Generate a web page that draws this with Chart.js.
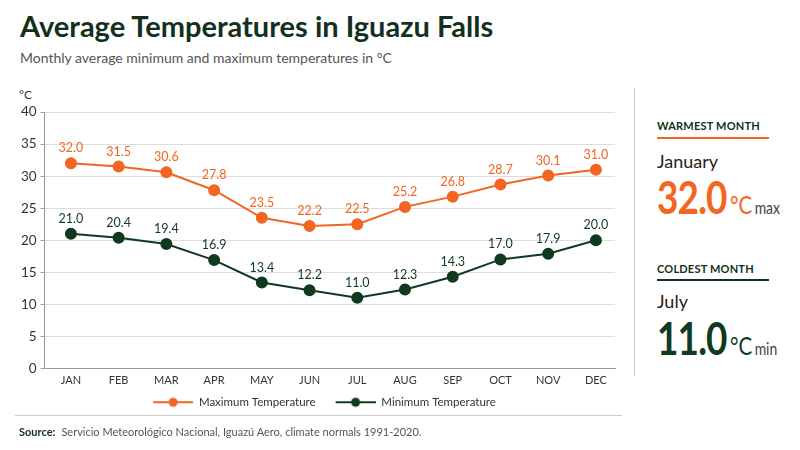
<!DOCTYPE html>
<html><head><meta charset="utf-8">
<script src="https://cdn.jsdelivr.net/npm/chart.js@4.4.1/dist/chart.umd.min.js"></script>
<style>
html,body{margin:0;padding:0;background:#fff;width:800px;height:450px;overflow:hidden;font-family:Lato,sans-serif;}
#title{position:absolute;left:20px;top:8px;font-size:29px;font-weight:700;color:#12301c;white-space:nowrap;}
#sub{position:absolute;left:20px;top:49px;font-size:14px;color:#555;white-space:nowrap;}
#unit{position:absolute;left:19px;top:87px;font-size:12px;color:#333;}
#wrap{position:absolute;left:0;top:100px;width:632px;height:318px;}
#vline{position:absolute;left:634px;top:88px;width:1px;height:288px;background:#ccc;}
#hline{position:absolute;left:15px;top:415px;width:607px;height:1px;background:#ccc;}
#src{position:absolute;left:19px;top:425px;font-size:11px;color:#555;white-space:nowrap;}
#src b{color:#12301c;margin-right:6px;}
.hd{position:absolute;left:657px;font-size:11px;font-weight:700;color:#12301c;letter-spacing:0.2px;}
.ul{position:absolute;left:657px;width:112px;height:1.5px;}
.mo{position:absolute;left:657px;font-size:18px;color:#222;}
.big{position:absolute;left:657px;white-space:nowrap;transform-origin:0 0;transform:scaleX(0.82);}
.big .n{font-weight:700;font-size:45px;letter-spacing:-1px;}
.big .u{font-size:25px;font-weight:400;margin-left:4px;}
.big .m{font-size:17px;font-weight:400;color:#444;margin-left:3px;}
</style></head>
<body>
<div id="title">Average Temperatures in Iguazu Falls</div>
<div id="sub">Monthly average minimum and maximum temperatures in °C</div>
<div id="unit">°C</div>
<div id="wrap"><canvas id="c"></canvas></div>
<div id="vline"></div>
<div class="hd" style="top:119px">WARMEST MONTH</div>
<div class="ul" style="top:137px;background:#f26522"></div>
<div class="mo" style="top:150px">January</div>
<div class="big" id="warm" style="top:170px;color:#f26522"></div>
<div class="hd" style="top:262px">COLDEST MONTH</div>
<div class="ul" style="top:279px;background:#12301c"></div>
<div class="mo" style="top:290px">July</div>
<div class="big" id="cold" style="top:311px;color:#0f3a1e"></div>
<div id="hline"></div>
<div id="src"><b>Source:</b>Servicio Meteorológico Nacional, Iguazú Aero, climate normals 1991-2020.</div>
<script>
const months = ["JAN","FEB","MAR","APR","MAY","JUN","JUL","AUG","SEP","OCT","NOV","DEC"];
const maxTemps = [32.0,31.5,30.6,27.8,23.5,22.2,22.5,25.2,26.8,28.7,30.1,31.0];
const minTemps = [21.0,20.4,19.4,16.9,13.4,12.2,11.0,12.3,14.3,17.0,17.9,20.0];
const yTicks = [0,5,10,15,20,25,30,35,40];

const ORANGE = "#f26522", GREEN = "#0f3a1e";

function warmIdx(){let i=0;maxTemps.forEach((v,j)=>{if(v>maxTemps[i])i=j;});return i;}
function coldIdx(){let i=0;minTemps.forEach((v,j)=>{if(v<minTemps[i])i=j;});return i;}
document.getElementById('warm').innerHTML = '<span class="n">'+maxTemps[warmIdx()].toFixed(1)+'</span><span class="u">°C</span><span class="m">max</span>';
document.getElementById('cold').innerHTML = '<span class="n">'+minTemps[coldIdx()].toFixed(1)+'</span><span class="u">°C</span><span class="m">min</span>';

function legendIcon(color){
  const c=document.createElement('canvas');c.width=57;c.height=12;
  const x=c.getContext('2d');
  x.strokeStyle=color;x.lineWidth=2;x.beginPath();x.moveTo(17,6);x.lineTo(57,6);x.stroke();
  x.fillStyle=color;x.beginPath();x.arc(37,6,4.5,0,Math.PI*2);x.fill();
  return c;
}
const icons=[legendIcon(ORANGE),legendIcon(GREEN)];

const labelPlugin={
  id:'valLabels',
  afterDatasetsDraw(chart){
    const ctx=chart.ctx;
    chart.data.datasets.forEach((ds,di)=>{
      const meta=chart.getDatasetMeta(di);
      ctx.save();
      ctx.font='12.5px Lato';
      ctx.fillStyle=ds.borderColor;
      ctx.textAlign='center';ctx.textBaseline='middle';
      meta.data.forEach((pt,i)=>{
        ctx.fillText(ds.data[i].y.toFixed(1),pt.x,pt.y-15);
      });
      ctx.restore();
    });
  }
};

const toPts = arr => arr.map((v,i)=>({x:i,y:v}));

new Chart(document.getElementById('c'),{
  type:'line',
  data:{datasets:[
    {label:'Maximum Temperature',data:toPts(maxTemps),borderColor:ORANGE,backgroundColor:ORANGE,borderWidth:2,pointRadius:5,pointHoverRadius:5,tension:0},
    {label:'Minimum Temperature',data:toPts(minTemps),borderColor:GREEN,backgroundColor:GREEN,borderWidth:2,pointRadius:5,pointHoverRadius:5,tension:0}
  ]},
  options:{
    responsive:true,maintainAspectRatio:false,animation:false,
    layout:{padding:{left:17,right:17,top:7,bottom:0}},
    plugins:{
      legend:{position:'bottom',labels:{usePointStyle:true,pointStyleWidth:57,boxHeight:12,color:'#333',font:{family:'Lato',size:11.5},padding:3,
        generateLabels(chart){
          const items=Chart.defaults.plugins.legend.labels.generateLabels(chart);
          items.forEach((it,i)=>{it.pointStyle=icons[i];it.lineWidth=0;});
          return items;
        }}},
      tooltip:{enabled:false}
    },
    scales:{
      x:{type:'linear',min:-0.55,max:11.4,
         afterBuildTicks(a){a.ticks=months.map((m,i)=>({value:i}));},
         grid:{display:false,drawTicks:false},border:{color:'#999',width:1},
         ticks:{color:'#333',font:{family:'Lato',size:11},padding:6,autoSkip:false,maxRotation:0,callback:(v)=>months[v]}},
      y:{min:0,max:40,afterBuildTicks(a){a.ticks=yTicks.map(v=>({value:v}));},
         grid:{color:'#ddd',borderDash:[2,3],tickBorderDash:[],tickColor:'#999',tickLength:4},
         border:{color:'#999',width:1},
         ticks:{color:'#333',font:{family:'Lato',size:13.5},padding:4}}
    }
  },
  plugins:[labelPlugin]
});
</script>
</body></html>
